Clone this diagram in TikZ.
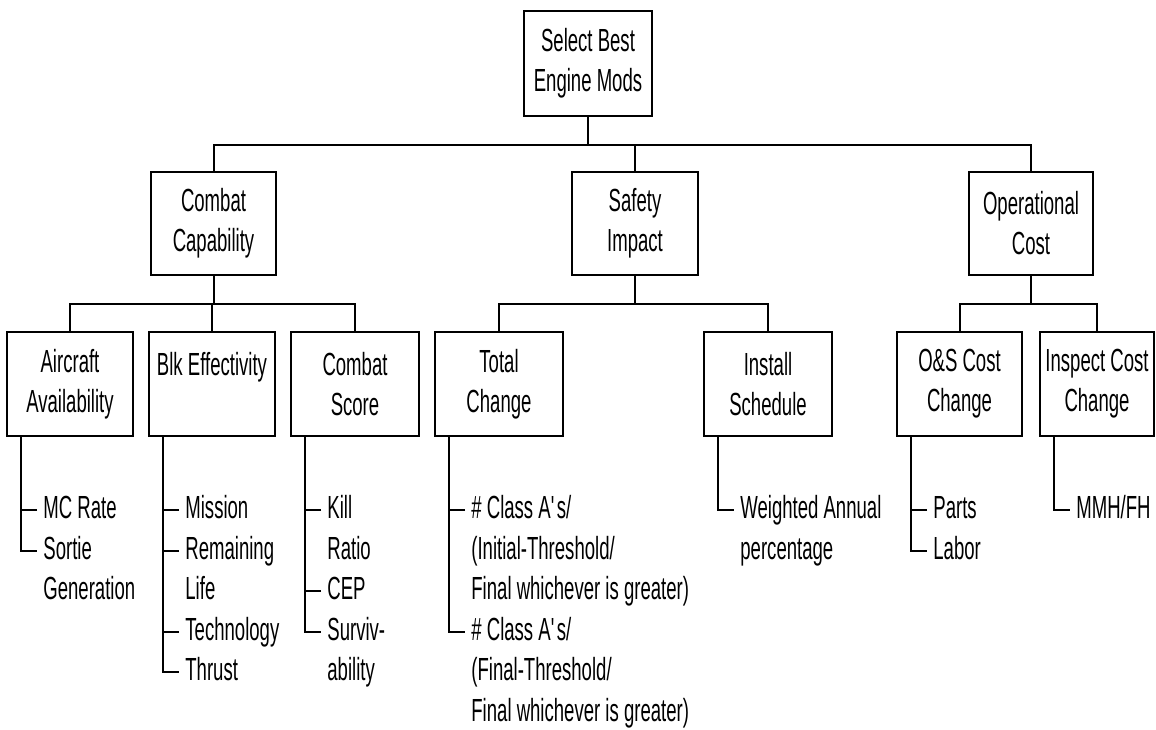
\documentclass[tikz,border=0pt]{standalone}
\usepackage{fontspec}
\setmainfont{Liberation Sans}[FakeStretch=0.58]
\usetikzlibrary{positioning}

\begin{document}
\begin{tikzpicture}[
  x=0.5pt, y=-0.5pt,
  every node/.style={font=\fontsize{16}{20}\selectfont},
  box/.style={draw, line width=1pt, align=center, inner sep=0pt,
              minimum height=52pt},
  leaf/.style={anchor=west, inner xsep=3pt, inner ysep=0pt,
               text height=11.5pt, text depth=3pt},
  wire/.style={line width=1pt},
]
  \useasboundingbox (0,0) rectangle (1156,729);

  % goal
  \node[box, minimum width=64pt, minimum height=52.5pt] (root) at (588,63.5)
       {Select Best\\Engine Mods};

  % criteria
  \node[box, minimum width=62.5pt, minimum height=51.5pt] (cc) at (213.5,223.5)
       {Combat\\Capability};
  \node[box, minimum width=63pt, minimum height=51.5pt] (si) at (635,223.5)
       {Safety\\Impact};
  \node[box, minimum width=62pt, minimum height=51.5pt] (oc) at (1031,223.5)
       {Operational\\Cost};
  \draw[wire] (root.south) -- ++(0,28) -| (cc.north);
  \draw[wire] (root.south) -- ++(0,28) -| (si.north);
  \draw[wire] (root.south) -- ++(0,28) -| (oc.north);

  % sub-criteria
  \node[box, minimum width=63pt] (aa) at (70,384) {Aircraft\\Availability};
  \node[box, minimum width=63pt] (be) at (212,384) {Blk Effectivity\\\phantom{X}};
  \node[box, minimum width=64pt] (cs) at (355,384) {Combat\\Score};
  \node[box, minimum width=64pt] (tc) at (499,384) {Total\\Change};
  \node[box, minimum width=64pt] (is) at (768,384) {Install\\Schedule};
  \node[box, minimum width=62.5pt] (os) at (959.5,384) {O\&S Cost\\Change};
  \node[box, minimum width=57pt] (ic) at (1097,384) {Inspect Cost\\Change};
  \draw[wire] (cc.south) -- ++(0,28) -| (aa.north);
  \draw[wire] (cc.south) -- ++(0,28) -| (be.north);
  \draw[wire] (cc.south) -- ++(0,28) -| (cs.north);
  \draw[wire] (si.south) -- ++(0,28) -| (tc.north);
  \draw[wire] (si.south) -- ++(0,28) -| (is.north);
  \draw[wire] (oc.south) -- ++(0,28) -| (os.north);
  \draw[wire] (oc.south) -- ++(0,28) -| (ic.north);

  % measures: Aircraft Availability
  \node[leaf] (mcrate) at (37,510) {MC Rate};
  \node[leaf] (sortie) at (37,550.5) {Sortie};
  \node[leaf] (sortie2) at (37,591) {Generation};
  \draw[wire] ([xshift=7.5pt]aa.south west) |- (sortie.west);
  \draw[wire] (mcrate.west) -- ++(-15,0);

  % measures: Blk Effectivity
  \node[leaf] (mission) at (179,510) {Mission};
  \node[leaf] (remain) at (179,550.5) {Remaining};
  \node[leaf] (remain2) at (179,591) {Life};
  \node[leaf] (techn) at (179,631.5) {Technology};
  \node[leaf] (thrust) at (179,672) {Thrust};
  \draw[wire] ([xshift=7.5pt]be.south west) |- (thrust.west);
  \draw[wire] (mission.west) -- ++(-15,0);
  \draw[wire] (remain.west) -- ++(-15,0);
  \draw[wire] (techn.west) -- ++(-15,0);

  % measures: Combat Score
  \node[leaf] (kill) at (321,510) {Kill};
  \node[leaf] (kill2) at (321,550.5) {Ratio};
  \node[leaf] (cep) at (321,591) {CEP};
  \node[leaf] (surv) at (321,631.5) {Surviv-};
  \node[leaf] (surv2) at (321,672) {ability};
  \draw[wire] ([xshift=7.5pt]cs.south west) |- (surv.west);
  \draw[wire] (kill.west) -- ++(-15,0);
  \draw[wire] (cep.west) -- ++(-15,0);

  % measures: Total Change
  \node[leaf] (clsa) at (465,510) {\# Class A\textquotesingle s/};
  \node[leaf] (clsa2) at (465,550.5) {(Initial-Threshold/};
  \node[leaf] (clsa3) at (465,591) {Final whichever is greater)};
  \node[leaf] (clsb) at (465,631.5) {\# Class A\textquotesingle s/};
  \node[leaf] (clsb2) at (465,672) {(Final-Threshold/};
  \node[leaf] (clsb3) at (465,712.5) {Final whichever is greater)};
  \draw[wire] ([xshift=7.5pt]tc.south west) |- (clsb.west);
  \draw[wire] (clsa.west) -- ++(-15,0);

  % measures: Install Schedule
  \node[leaf] (wgt) at (734,510) {Weighted Annual};
  \node[leaf] (wgt2) at (734,550.5) {percentage};
  \draw[wire] ([xshift=7.5pt]is.south west) |- (wgt.west);

  % measures: O&S Cost Change
  \node[leaf] (parts) at (927,510) {Parts};
  \node[leaf] (labor) at (927,550.5) {Labor};
  \draw[wire] ([xshift=7.5pt]os.south west) |- (labor.west);
  \draw[wire] (parts.west) -- ++(-15,0);

  % measures: Inspect Cost Change
  \node[leaf] (mmh) at (1070,510) {MMH/FH};
  \draw[wire] ([xshift=7.5pt]ic.south west) |- (mmh.west);
\end{tikzpicture}
\end{document}
